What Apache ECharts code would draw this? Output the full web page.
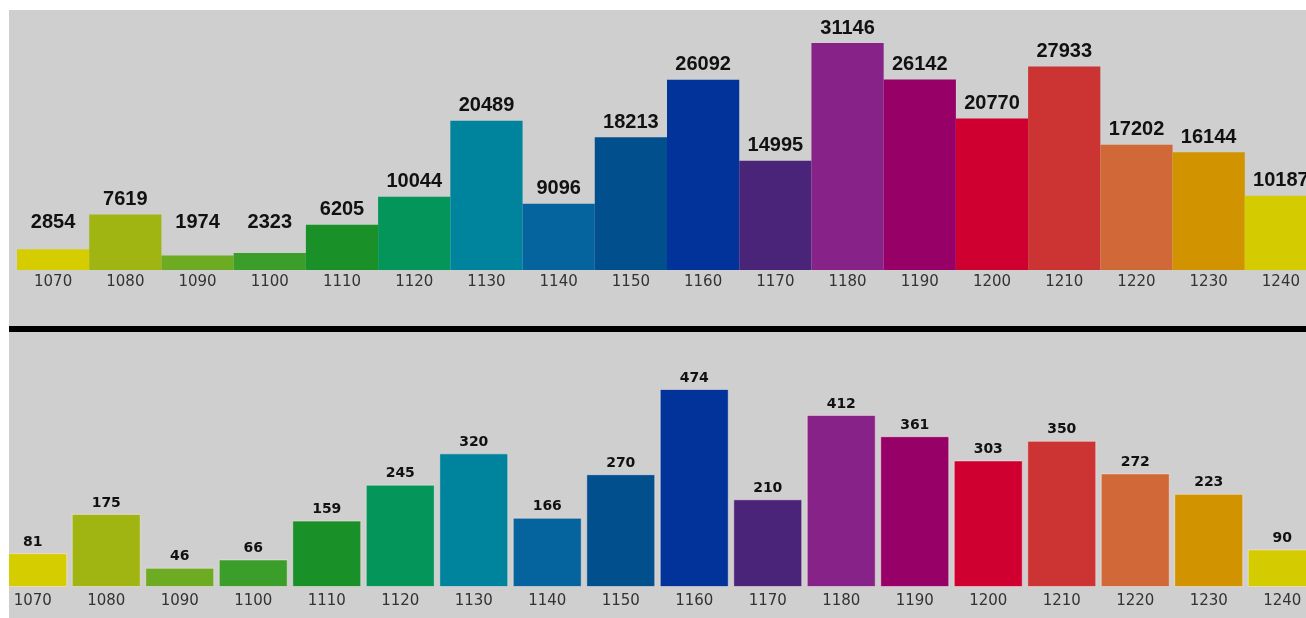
<!DOCTYPE html>
<html>
<head>
<meta charset="utf-8">
<script src="https://cdn.jsdelivr.net/npm/echarts@6/dist/echarts.min.js"></script>
<style>
  html, body { margin: 0; padding: 0; background: #ffffff; }
  #frame { position: absolute; left: 9px; top: 10px; width: 1297px; height: 608px; overflow: hidden; background: #cfcfcf; }
  /* chart is wider than the frame so the outer bars get cut off like in the source */
  #chart { position: absolute; left: -20px; top: 0; width: 1337px; height: 608px; }
</style>
</head>
<body>
<div id="frame"><div id="chart"></div></div>
<script>
const categories = ['1070', '1080', '1090', '1100', '1110', '1120', '1130', '1140', '1150',
  '1160', '1170', '1180', '1190', '1200', '1210', '1220', '1230', '1240'];
const topValues = [2854, 7619, 1974, 2323, 6205, 10044, 20489, 9096, 18213,
  26092, 14995, 31146, 26142, 20770, 27933, 17202, 16144, 10187];
const bottomValues = [81, 175, 46, 66, 159, 245, 320, 166, 270,
  474, 210, 412, 361, 303, 350, 272, 223, 90];
const barColors = ['#d6cd00', '#a0b512', '#6cab22', '#3c9e2a', '#1a9128', '#03955a',
  '#00849e', '#05649e', '#024f8e', '#01339a', '#4a2479', '#862288',
  '#970066', '#cf0030', '#cc3333', '#d06838', '#d19400', '#d4cc00'];

// top panel: small bars keep their label up at a minimum height
const TOP_MAX = 31146, TOP_H = 227, LABEL_FLOOR = 4527;
const topData = topValues.map((v, i) => ({
  value: v,
  itemStyle: { color: barColors[i] },
  label: { offset: [0, -Math.max(0, LABEL_FLOOR - v) * TOP_H / TOP_MAX] }
}));
const bottomData = bottomValues.map((v, i) => ({
  value: v,
  itemStyle: { color: barColors[i] }
}));

const axisLabel = { interval: 0, fontFamily: 'DejaVu Sans', fontSize: 15, color: '#333333' };

const chart = echarts.init(document.getElementById('chart'), null, { renderer: 'canvas' });
chart.setOption({
  animation: false,
  backgroundColor: '#cfcfcf',
  grid: [
    { left: 28, right: 9, top: 33, bottom: 348 },
    { left: 7, right: 7, top: 379, bottom: 31 }
  ],
  xAxis: [
    { type: 'category', gridIndex: 0, data: categories,
      axisLine: { show: false }, axisTick: { show: false },
      axisLabel: { ...axisLabel, margin: 5 } },
    { type: 'category', gridIndex: 1, data: categories,
      axisLine: { show: false }, axisTick: { show: false },
      axisLabel: { ...axisLabel, margin: 7 } }
  ],
  yAxis: [
    { type: 'value', gridIndex: 0, min: 0, max: TOP_MAX, show: false },
    { type: 'value', gridIndex: 1, min: 0, max: 474, show: false }
  ],
  graphic: [
    { type: 'rect', shape: { x: 0, y: 316, width: 1337, height: 6 }, style: { fill: '#000000' } }
  ],
  series: [
    {
      type: 'bar', xAxisIndex: 0, yAxisIndex: 0, data: topData,
      barCategoryGap: 0,
      label: {
        show: true, position: 'top', distance: 5,
        fontFamily: 'Liberation Sans', fontWeight: 'bold', fontSize: 20, color: '#111111'
      }
    },
    {
      type: 'bar', xAxisIndex: 1, yAxisIndex: 1, data: bottomData,
      barWidth: 69,
      itemStyle: { borderColor: 'rgba(255,235,235,0.5)', borderWidth: 1 },
      label: {
        show: true, position: 'top', distance: 4,
        fontFamily: 'DejaVu Sans', fontWeight: 'bold', fontSize: 14, color: '#111111'
      }
    }
  ]
});
</script>
</body>
</html>
